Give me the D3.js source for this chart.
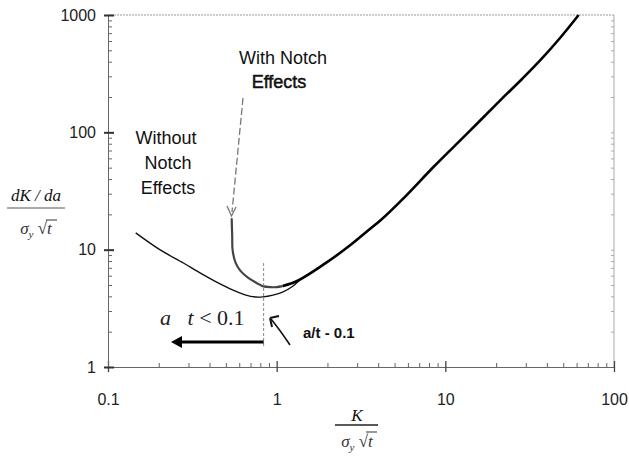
<!DOCTYPE html>
<html>
<head>
<meta charset="utf-8">
<script src="https://cdn.jsdelivr.net/npm/d3@7"></script>
<style>
  html, body { margin: 0; padding: 0; background: #fff; }
  svg { display: block; }
  .tick text { font-family: "Liberation Sans", Arial, sans-serif; }
</style>
</head>
<body>
<svg id="chart" width="629" height="456"></svg>
<script>
// ---------- data ----------
const xTickValues = [0.1, 1, 10, 100];
const xTickLabels = ["0.1", "1", "10", "100"];
const yTickValues = [1, 10, 100, 1000];
const yTickLabels = ["1", "10", "100", "1000"];

// curve without notch effects (thin)
const withoutX = [0.146, 0.205, 0.28, 0.355, 0.435, 0.556, 0.65, 0.75, 0.83, 0.95, 1.085, 1.24, 1.35];
const withoutY = [13.9, 9.9, 7.7, 6.27, 5.35, 4.5, 4.12, 3.95, 3.96, 4.1, 4.35, 4.85, 5.4];

// branch with notch effects (starts near K = 0.54)
const notchX = [0.541, 0.545, 0.548, 0.572, 0.612, 0.682, 0.76, 0.826, 0.921, 1.0, 1.085];
const notchY = [18.5, 13.0, 9.9, 7.67, 6.56, 5.71, 5.2, 4.89, 4.79, 4.8, 4.89];

// main curve (thick)
const mainX = [1.085, 1.35, 1.95, 2.75, 3.51, 4.13, 5.8, 8.53, 13.5, 21.3, 28.5, 36.7, 48.0, 61.7];
const mainY = [4.89, 5.49, 7.67, 11.0, 14.7, 17.8, 28.5, 50.9, 98, 189, 285, 414, 640, 1000];

const notchLineK = 0.837;   // a/t = 0.1 marker

(function () {
// ---------- setup ----------
const svg = d3.select("#chart");
const pL = 108, pR = 614, pT = 15, pB = 367;
const x = d3.scaleLog().domain([0.1, 100]).range([pL, pR]);
const y = d3.scaleLog().domain([1, 1000]).range([pB, pT]);

const minorX = [], minorY = [];
[0.1, 1, 10].forEach(d => { for (let k = 2; k <= 9; k++) minorX.push(d * k); });
[1, 10, 100].forEach(d => { for (let k = 2; k <= 9; k++) minorY.push(d * k); });

const axisColor = "#666";

// frame: top & right borders
svg.append("line").attr("x1", pL).attr("x2", pR).attr("y1", pT).attr("y2", pT)
  .attr("stroke", "#999").attr("stroke-width", 1).attr("stroke-dasharray", "2,1");
svg.append("line").attr("x1", pR).attr("x2", pR).attr("y1", pT).attr("y2", pB)
  .attr("stroke", "#aaa").attr("stroke-width", 1);

// right border minor ticks
svg.append("g").attr("transform", `translate(${pR},0)`)
  .call(d3.axisRight(y).tickValues(minorY.concat([10, 100])).tickSize(-3).tickFormat(""))
  .call(g => g.select(".domain").remove())
  .call(g => g.selectAll("line").attr("stroke", "#aaa"));

// x axis minor
svg.append("g").attr("transform", `translate(0,${pB})`)
  .call(d3.axisBottom(x).tickValues(minorX).tickSize(-4).tickSizeOuter(0).tickFormat(""))
  .call(g => g.select(".domain").attr("stroke", axisColor))
  .call(g => g.selectAll(".tick line").attr("stroke", axisColor));

// x axis major
svg.append("g").attr("transform", `translate(0,${pB})`)
  .call(d3.axisBottom(x).tickValues(xTickValues).tickSizeOuter(0)
    .tickFormat((d, i) => xTickLabels[i]).tickSize(5).tickPadding(22))
  .call(g => g.select(".domain").remove())
  .call(g => g.selectAll(".tick line").attr("y1", -6).attr("stroke", "#444").attr("stroke-width", 1.3))
  .call(g => g.selectAll(".tick text").attr("font-size", 16).attr("fill", "#222"));

// y axis minor
svg.append("g").attr("transform", `translate(${pL},0)`)
  .call(d3.axisLeft(y).tickValues(minorY).tickSize(-4).tickSizeOuter(0).tickFormat(""))
  .call(g => g.select(".domain").attr("stroke", axisColor))
  .call(g => g.selectAll(".tick line").attr("stroke", axisColor));

// y axis major
svg.append("g").attr("transform", `translate(${pL},0)`)
  .call(d3.axisLeft(y).tickValues(yTickValues).tickSizeOuter(0)
    .tickFormat((d, i) => yTickLabels[i]).tickSize(4).tickPadding(8))
  .call(g => g.select(".domain").remove())
  .call(g => g.selectAll(".tick line").attr("x2", 6).attr("x1", -4).attr("stroke", "#333").attr("stroke-width", 2))
  .call(g => g.selectAll(".tick text").attr("font-size", 16).attr("fill", "#222").attr("x", -12));

// ---------- curves ----------
const line = d3.line().x(d => x(d[0])).y(d => y(d[1])).curve(d3.curveCatmullRom.alpha(0.5));
const zip = (a, b) => a.map((v, i) => [v, b[i]]);

svg.append("path").datum(zip(withoutX, withoutY)).attr("d", line)
  .attr("fill", "none").attr("stroke", "#111").attr("stroke-width", 1.4);

svg.append("path").datum(zip(notchX, notchY)).attr("d", line)
  .attr("fill", "none").attr("stroke", "#444").attr("stroke-width", 2.2);

svg.append("path").datum(zip(mainX, mainY)).attr("d", line)
  .attr("fill", "none").attr("stroke", "#000").attr("stroke-width", 2.6);

// a/t = 0.1 dotted vertical
svg.append("line").attr("x1", x(notchLineK)).attr("x2", x(notchLineK))
  .attr("y1", 263).attr("y2", 348)
  .attr("stroke", "#888").attr("stroke-width", 1).attr("stroke-dasharray", "3,2");

// ---------- annotations ----------
// thick left arrow
svg.append("line").attr("x1", x(notchLineK)).attr("x2", 178).attr("y1", 342).attr("y2", 342)
  .attr("stroke", "#000").attr("stroke-width", 3);
svg.append("path").attr("d", "M171,342 L182,336 L182,348 Z").attr("fill", "#000");

// small black pointer arrow to dotted line
svg.append("path").attr("d", "M290,345 Q280,330 271,319").attr("fill", "none")
  .attr("stroke", "#111").attr("stroke-width", 1.6);
svg.append("path").attr("d", "M270,318 L279,316 M270,318 L272,327").attr("fill", "none")
  .attr("stroke", "#111").attr("stroke-width", 2);

// dashed arrow for "With Notch Effects"
svg.append("line").attr("x1", 243).attr("y1", 98).attr("x2", 232).attr("y2", 212)
  .attr("stroke", "#777").attr("stroke-width", 1.3).attr("stroke-dasharray", "7,3");
svg.append("path").attr("d", "M227,206 L231.5,216 L236,207").attr("fill", "none")
  .attr("stroke", "#777").attr("stroke-width", 1.3);

const sans = "'Liberation Sans', Arial, sans-serif";
const serif = "'Liberation Serif', 'Times New Roman', serif";

function txt(s, px, py, opts = {}) {
  return svg.append("text").attr("x", px).attr("y", py).text(s)
    .attr("font-family", opts.family || sans)
    .attr("font-size", opts.size || 18)
    .attr("font-weight", opts.weight || "normal")
    .attr("font-style", opts.style || "normal")
    .attr("text-anchor", opts.anchor || "middle")
    .attr("fill", opts.fill || "#111");
}

txt("With Notch", 283, 64);
txt("Effects", 279, 88, { size: 18 }).attr("stroke", "#111").attr("stroke-width", 0.5);
txt("Without", 166, 144);
txt("Notch", 168, 169);
txt("Effects", 168, 194);

const at = svg.append("text").attr("x", 160).attr("y", 325)
  .attr("font-family", serif).attr("font-size", 22).attr("fill", "#222")
  .style("white-space", "pre");
at.append("tspan").text("a").attr("font-style", "italic");
at.append("tspan").text("   ");
at.append("tspan").text("t").attr("font-style", "italic");
at.append("tspan").text(" < 0.1");

txt("a/t - 0.1", 303, 338, { weight: "bold", size: 15, anchor: "start" });

// y-axis label fraction
txt("dK / da", 36, 201, { family: serif, style: "italic", size: 17 });
svg.append("line").attr("x1", 7).attr("x2", 65).attr("y1", 208).attr("y2", 208)
  .attr("stroke", "#555").attr("stroke-width", 1);
const yDen = svg.append("text").attr("x", 36).attr("y", 234).attr("text-anchor", "middle")
  .attr("font-family", serif).attr("font-size", 17).attr("font-style", "italic").attr("fill", "#333");
yDen.append("tspan").text("σ");
yDen.append("tspan").text("y").attr("font-size", 11).attr("dy", 4);
yDen.append("tspan").text(" √").attr("dy", -4).attr("font-style", "normal");
yDen.append("tspan").text("t");
svg.append("line").attr("x1", 46).attr("x2", 57).attr("y1", 220).attr("y2", 220)
  .attr("stroke", "#333").attr("stroke-width", 1);

// x-axis label fraction
txt("K", 357, 421, { family: serif, style: "italic", size: 17 });
svg.append("line").attr("x1", 335).attr("x2", 378).attr("y1", 425).attr("y2", 425)
  .attr("stroke", "#222").attr("stroke-width", 1.5);
const xDen = svg.append("text").attr("x", 357).attr("y", 447).attr("text-anchor", "middle")
  .attr("font-family", serif).attr("font-size", 17).attr("font-style", "italic").attr("fill", "#333");
xDen.append("tspan").text("σ");
xDen.append("tspan").text("y").attr("font-size", 11).attr("dy", 4);
xDen.append("tspan").text(" √").attr("dy", -4).attr("font-style", "normal");
xDen.append("tspan").text("t");
svg.append("line").attr("x1", 366).attr("x2", 377).attr("y1", 432).attr("y2", 432)
  .attr("stroke", "#333").attr("stroke-width", 1);
})();
</script>
</body>
</html>
